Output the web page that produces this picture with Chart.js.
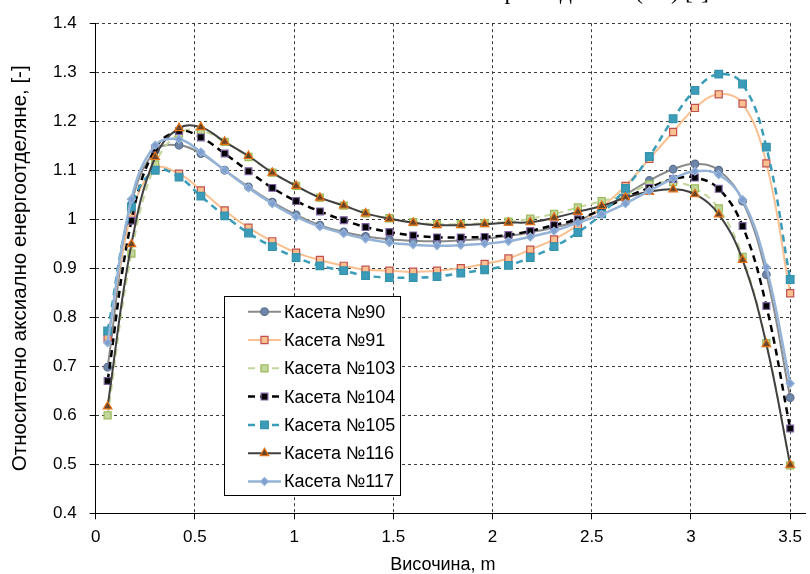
<!DOCTYPE html>
<html><head><meta charset="utf-8">
<script src="https://cdn.jsdelivr.net/npm/chart.js@4.4.1/dist/chart.umd.min.js"></script>
<style>html,body{margin:0;padding:0;background:#fff;overflow:hidden}#wrap{position:relative;width:810px;height:574px}</style>
</head><body><div id="wrap"><canvas id="c" width="810" height="574"></canvas></div>
<script>
// ---- data ----
const heights = [0.06,0.18,0.30,0.42,0.53,0.65,0.77,0.89,1.01,1.13,1.25,1.36,1.48,1.60,1.72,1.84,1.96,2.08,2.19,2.31,2.43,2.55,2.67,2.79,2.91,3.02,3.14,3.26,3.38,3.50];
const seriesNames = ['Касета №90','Касета №91','Касета №103','Касета №104','Касета №105','Касета №116','Касета №117'];
const k90  = [0.698,1.030,1.140,1.151,1.134,1.100,1.066,1.035,1.009,0.988,0.974,0.965,0.959,0.956,0.955,0.957,0.960,0.966,0.973,0.983,0.997,1.020,1.050,1.079,1.102,1.113,1.100,1.037,0.887,0.636];
const k91  = [0.758,1.010,1.103,1.093,1.059,1.018,0.983,0.955,0.932,0.917,0.905,0.897,0.895,0.893,0.895,0.900,0.909,0.920,0.938,0.959,0.988,1.025,1.068,1.123,1.178,1.227,1.255,1.236,1.114,0.849];
const k103 = [0.600,0.930,1.112,1.175,1.181,1.158,1.127,1.095,1.068,1.044,1.028,1.012,1.002,0.994,0.990,0.990,0.992,0.995,1.001,1.011,1.024,1.037,1.049,1.071,1.076,1.063,1.022,0.923,0.747,0.498];
const k104 = [0.670,0.997,1.144,1.180,1.167,1.134,1.098,1.064,1.037,1.016,0.998,0.984,0.974,0.967,0.963,0.963,0.964,0.968,0.976,0.988,1.000,1.020,1.044,1.064,1.082,1.085,1.062,0.986,0.823,0.573];
const k105 = [0.772,1.025,1.100,1.086,1.047,1.007,0.972,0.944,0.922,0.905,0.895,0.885,0.881,0.881,0.883,0.890,0.897,0.906,0.922,0.944,0.973,1.011,1.063,1.128,1.205,1.263,1.296,1.276,1.147,0.877];
const k116 = [0.618,0.949,1.127,1.186,1.188,1.158,1.129,1.095,1.068,1.044,1.028,1.012,1.001,0.993,0.988,0.988,0.990,0.993,0.994,1.003,1.015,1.027,1.044,1.056,1.061,1.051,1.010,0.917,0.745,0.499];
const k117 = [0.748,1.041,1.151,1.163,1.137,1.100,1.064,1.032,1.005,0.985,0.971,0.960,0.952,0.948,0.946,0.947,0.950,0.955,0.964,0.976,0.993,1.010,1.032,1.058,1.083,1.098,1.091,1.040,0.902,0.665];
const xTicks = [0,0.5,1,1.5,2,2.5,3,3.5];
const yTicks = [0.4,0.5,0.6,0.7,0.8,0.9,1.0,1.1,1.2,1.3,1.4];
const xTitle = 'Височина, m';
const yTitle = 'Относително аксиално енергоотделяне, [-]';
const topTitle = 'Относително аксиално енергоотделяне (Kz) [-]';

// ---- styles ----
const values = [k90,k91,k103,k104,k105,k116,k117];
const styles = [
  {line:'#8a8a8a', w:2,   dash:[],    ps:'circle',   r:3.8, fill:'#6f86a8', stroke:'#5b7090'},
  {line:'#fac090', w:2,   dash:[],    ps:'rect',     r:5,   fill:'#fac090', stroke:'#c0504d'},
  {line:'#c3d69b', w:2,   dash:[7,5], ps:'rect',     r:5,   fill:'#c3d69b', stroke:'#9bbb59'},
  {line:'#000000', w:2.5, dash:[7,5], ps:'rect',     r:4.8, fill:'#000000', stroke:'#8064a2'},
  {line:'#3a9cb8', w:2.5, dash:[7,5], ps:'rect',     r:5.4, fill:'#3a9cb8', stroke:'#3592ad'},
  {line:'#404040', w:2,   dash:[],    ps:'triangle', r:5,   fill:'#6a4526', stroke:'#e4721a'},
  {line:'#95b3d7', w:2.5, dash:[],    ps:'rectRot',  r:4,   fill:'#7f9fd0', stroke:'#95b3d7'}
];

const datasets = values.map((arr, i) => ({
  label: seriesNames[i],
  data: heights.map((h, j) => ({x: h, y: arr[j]})),
  borderColor: styles[i].line,
  borderWidth: styles[i].w,
  borderDash: styles[i].dash,
  pointStyle: styles[i].ps,
  pointRadius: styles[i].r,
  pointBackgroundColor: styles[i].fill,
  pointBorderColor: styles[i].stroke,
  pointBorderWidth: 1.2,
  tension: 0.4,
  fill: false,
  clip: 10,
  order: values.length - i
}));

function drawMarker(ctx, style, x, y, r, fill, stroke, bw) {
  ctx.beginPath();
  if (style === 'circle') ctx.arc(x, y, r, 0, Math.PI * 2);
  else if (style === 'rect') { const s = r * Math.SQRT1_2; ctx.rect(x - s, y - s, 2 * s, 2 * s); }
  else if (style === 'triangle') {
    let a = 0;
    ctx.moveTo(x + Math.sin(a) * r, y - Math.cos(a) * r);
    a += 2 * Math.PI / 3; ctx.lineTo(x + Math.sin(a) * r, y - Math.cos(a) * r);
    a += 2 * Math.PI / 3; ctx.lineTo(x + Math.sin(a) * r, y - Math.cos(a) * r);
    ctx.closePath();
  } else if (style === 'rectRot') {
    ctx.moveTo(x - r, y); ctx.lineTo(x, y - r); ctx.lineTo(x + r, y); ctx.lineTo(x, y + r); ctx.closePath();
  }
  ctx.fillStyle = fill; ctx.fill();
  ctx.lineWidth = bw; ctx.strokeStyle = stroke; ctx.stroke();
}

const extras = {
  id: 'extras',
  afterDraw(chart) {
    const ctx = chart.ctx;
    const ca = chart.chartArea;
    ctx.save();
    // extension of the bottom axis line
    ctx.strokeStyle = '#000'; ctx.lineWidth = 1; ctx.setLineDash([]);
    ctx.beginPath(); ctx.moveTo(ca.right, Math.round(ca.bottom) + 0.5); ctx.lineTo(806, Math.round(ca.bottom) + 0.5); ctx.stroke();
    // clipped top title (only its lowest part is inside the picture)
    ctx.fillStyle = '#000'; ctx.font = '24px "Liberation Serif", "Times New Roman", serif';
    ctx.textAlign = 'right'; ctx.textBaseline = 'alphabetic';
    ctx.fillText(topTitle, 709, -1);
    // legend box
    const x0 = 224.5, y0 = 296.5, w = 176, h = 199;
    ctx.fillStyle = '#fff'; ctx.fillRect(x0, y0, w, h);
    ctx.strokeStyle = '#000'; ctx.lineWidth = 1; ctx.strokeRect(x0, y0, w, h);
    ctx.textAlign = 'left'; ctx.textBaseline = 'middle';
    ctx.font = '18px "Liberation Sans", Arial, sans-serif';
    chart.data.datasets.forEach((ds, i) => {
      const cy = 311.7 + 28.3 * i;
      ctx.beginPath(); ctx.setLineDash(ds.borderDash || []);
      ctx.strokeStyle = ds.borderColor; ctx.lineWidth = ds.borderWidth;
      ctx.moveTo(248, cy); ctx.lineTo(281, cy); ctx.stroke();
      ctx.setLineDash([]);
      drawMarker(ctx, ds.pointStyle, 264.5, cy, ds.pointRadius, ds.pointBackgroundColor, ds.pointBorderColor, ds.pointBorderWidth);
      ctx.fillStyle = '#000';
      ctx.fillText(ds.label, 284, cy + 1);
    });
    ctx.restore();
  }
};

const gridColor = '#3a3a3a';
const fam = '"Liberation Sans", Arial, sans-serif';
new Chart(document.getElementById('c'), {
  type: 'line',
  data: { datasets },
  options: {
    responsive: false,
    animation: false,
    devicePixelRatio: 1,
    layout: { padding: { left: 0, right: 14.3, top: 23, bottom: 0 } },
    plugins: { legend: { display: false }, title: { display: false }, tooltip: { enabled: false } },
    scales: {
      x: {
        type: 'linear', min: 0, max: 3.5,
        afterBuildTicks: s => { s.ticks = xTicks.map(v => ({ value: v })); },
        afterFit: s => { s.height = 60.7; },
        ticks: { color: '#000', font: { size: 17, family: fam }, padding: 8, maxRotation: 0,
                 callback: v => String(+(+v).toFixed(2)) },
        grid: { color: gridColor, lineWidth: 1, tickLength: 6, tickColor: '#000', tickBorderDash: [] },
        border: { display: true, color: '#000', width: 1, dash: [3, 3] },
        title: { display: true, text: xTitle, color: '#000', font: { size: 18, family: fam }, padding: { top: 0, bottom: -2 } }
      },
      y: {
        type: 'linear', min: 0.4, max: 1.4,
        afterBuildTicks: s => { s.ticks = yTicks.map(v => ({ value: v })); },
        afterFit: s => { s.width = 95.7; },
        ticks: { color: '#000', font: { size: 17, family: fam }, padding: 13,
                 callback: v => String(+(+v).toFixed(2)) },
        grid: { color: gridColor, lineWidth: 1, tickLength: 6, tickColor: '#000', tickBorderDash: [] },
        border: { display: true, color: '#000', width: 1, dash: [3, 3] },
        title: { display: true, text: yTitle, color: '#000', font: { size: 20.5, family: fam }, padding: { top: 8, bottom: 0 } }
      }
    }
  },
  plugins: [extras]
});
</script>
</body></html>
